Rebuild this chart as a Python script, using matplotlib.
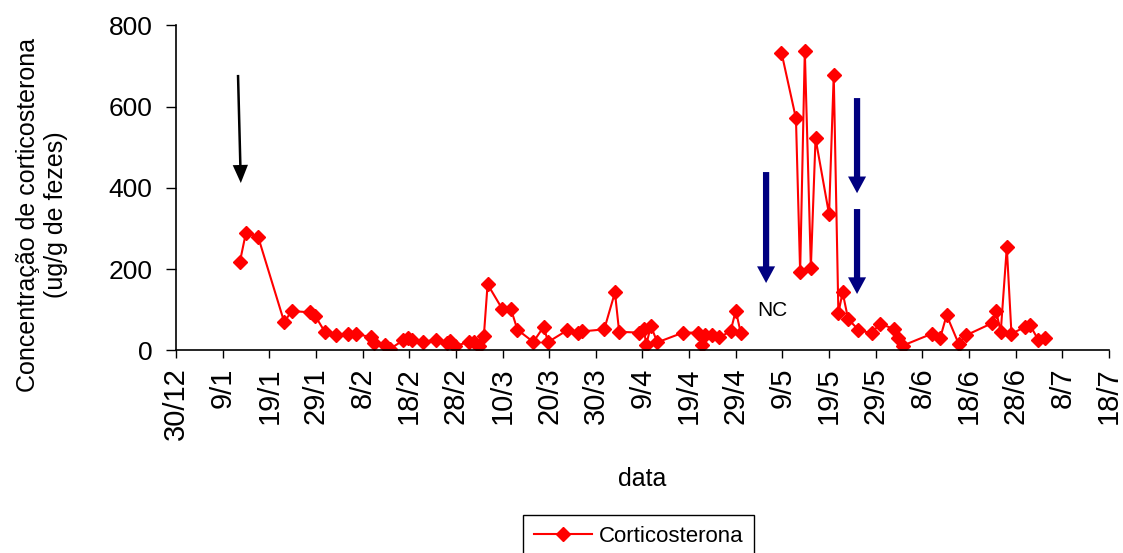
import matplotlib.pyplot as plt
from matplotlib.patches import FancyArrowPatch
import numpy as np

plt.rcParams['font.family'] = ['Liberation Sans', 'DejaVu Sans']

# dias contados a partir de 30/12 e concentracao (ug/g de fezes)
# nan = periodo sem coleta (NC), quebra a linha
dias = [13.7, 15.0, 17.6, 23.2, 24.8, 28.7, 29.8, 31.9, 34.4, 36.8,
        38.6, 41.7, 42.4, 44.8, 45.9, 48.7, 49.8, 50.7, 53.0, 55.7,
        58.1, 58.8, 59.8, 62.8, 63.8, 65.0, 66.0, 66.8, 69.9, 71.8,
        73.2, 76.6, 78.8, 79.8, 83.9, 86.2, 87.1, 91.8, 94.1, 95.0,
        99.3, 100.3, 100.8, 101.8, 103.2, 108.7, 111.8, 112.7, 113.4, 115.0,
        116.5, 118.9, 120.0, 121.1, np.nan,
        129.8, 132.9, 133.8, 134.8, 136.1, 137.1, 140.0, 141.0, 142.0, 142.9,
        144.1, 146.3, 149.1, 150.9, 153.9, 154.8, 155.8, 162.0, 163.8, 165.2,
        167.8, 169.3, 174.9, 175.8, 176.8, 178.1, 179.1, 182.0, 183.1, 184.8,
        186.3]
cort = [218, 290, 280, 70, 97, 94, 86, 46, 37, 41,
        41, 33, 18, 13, 4, 25, 31, 25, 21, 27,
        18, 23, 10, 22, 22, 12, 36, 163, 103, 102,
        51, 21, 58, 21, 50, 42, 47, 52, 143, 46,
        44, 54, 14, 60, 20, 44, 44, 14, 37, 37,
        32, 48, 98, 42, np.nan,
        733, 571, 193, 738, 204, 522, 335, 678, 92, 143,
        77, 51, 42, 66, 53, 30, 12, 41, 30, 87,
        16, 37, 67, 97, 46, 254, 41, 58, 62, 27,
        31]

rotulos = ['30/12', '9/1', '19/1', '29/1', '8/2', '18/2', '28/2', '10/3',
           '20/3', '30/3', '9/4', '19/4', '29/4', '9/5', '19/5', '29/5',
           '8/6', '18/6', '28/6', '8/7', '18/7']

fig = plt.figure(figsize=(11.23, 5.53), dpi=100)
ax = fig.add_axes([0.1567, 0.3662, 0.8308, 0.588])

ax.plot(dias, cort, color='red', lw=1.5, marker='D', ms=7,
        label='Corticosterona')

ax.set_xlim(0, 200)
ax.set_ylim(0, 800)
ax.set_xticks(np.arange(0, 201, 10))
ax.set_xticklabels(rotulos, rotation=90, fontsize=21)
ax.set_yticks([0, 200, 400, 600, 800])
ax.tick_params(axis='y', labelsize=19, length=7, width=1, direction='out', pad=10)
ax.tick_params(axis='x', length=6, width=1, direction='out', pad=6)
for s in ['top', 'right']:
    ax.spines[s].set_visible(False)
for s in ['left', 'bottom']:
    ax.spines[s].set_linewidth(1.2)

ax.set_xlabel('data', fontsize=18)
ax.xaxis.set_label_coords(0.5, -0.358)
fig.text(42 / 1123, 1 - 215 / 553,
         'Concentração de corticosterona\n(ug/g de fezes)',
         rotation=90, ha='center', va='center', multialignment='center',
         fontsize=18)

# setas
def seta(x0, y0, x1, y1, cor, cauda, cab_l, cab_c):
    est = 'simple,head_width=%g,head_length=%g,tail_width=%g' % (cab_l, cab_c, cauda)
    ax.add_patch(FancyArrowPatch((x0, y0), (x1, y1), arrowstyle=est,
                                 color=cor, mutation_scale=1, lw=0,
                                 shrinkA=0, shrinkB=0))

seta(13.3, 678, 13.9, 412, 'black', 1.8, 11, 13)
seta(126.5, 439, 126.5, 166, '#000080', 4.5, 13, 12)
seta(146.0, 621, 146.0, 387, '#000080', 4.5, 13, 12)
seta(146.0, 348, 146.0, 139, '#000080', 4.5, 13, 12)

ax.text(127.8, 99, 'NC', fontsize=15, ha='center', va='center')

leg = fig.legend(loc='upper left', bbox_to_anchor=(523 / 1123, 1 - 515 / 553),
                 fontsize=16, handlelength=2.6, handletextpad=0.3,
                 borderaxespad=0, fancybox=False, edgecolor='black',
                 framealpha=1, borderpad=0.5)
leg.get_frame().set_linewidth(1)

fig.savefig('out.png', dpi=100)
